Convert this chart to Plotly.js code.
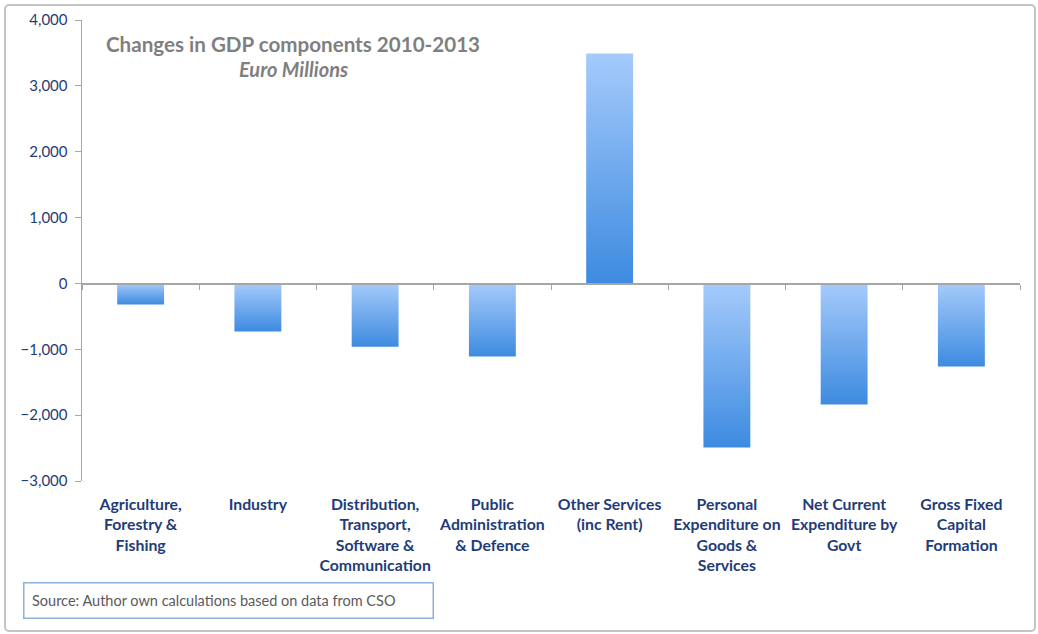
<!DOCTYPE html>
<html>
<head>
<meta charset="utf-8">
<script src="https://cdn.plot.ly/plotly-3.0.1.min.js"></script>
<style>
  html, body { margin: 0; padding: 0; background: #ffffff; }
  #wrap { position: relative; width: 1038px; height: 634px; }
  #chart { width: 1038px; height: 634px; }
  #frame { position: absolute; left: 4px; top: 4px; width: 1028px; height: 624px;
           border: 2px solid #c4c4c4; border-radius: 5px; pointer-events: none; }
</style>
</head>
<body>
<div id="wrap">
  <div id="chart"></div>
  <div id="frame"></div>
</div>
<script>
const categories = [
  "Agriculture,<br>Forestry &<br>Fishing",
  "Industry",
  "Distribution,<br>Transport,<br>Software &<br>Communication",
  "Public<br>Administration<br>& Defence",
  "Other Services<br>(inc Rent)",
  "Personal<br>Expenditure on<br>Goods &<br>Services",
  "Net Current<br>Expenditure by<br>Govt",
  "Gross Fixed<br>Capital<br>Formation"
];
const changes = [-320, -730, -960, -1110, 3490, -2490, -1840, -1260];
const yTickVals = [-3000, -2000, -1000, 0, 1000, 2000, 3000, 4000];
const chartTitle = "Changes in GDP components 2010-2013";
const chartSubtitle = "Euro Millions";
const sourceNote = "Source: Author own calculations based on data from CSO";

const navy = "#1f3c78";
const axisGrey = "#a6a6a6";
const yMin = -3000, yMax = 4000;

const barTrace = {
  type: "bar",
  x: categories,
  y: changes,
  marker: { color: "#6aa8ee", line: { width: 0 } },
  hoverinfo: "x+y"
};
// empty helper trace so the zero-level category axis (x2) is drawn
const axisHelper = { type: "scatter", x: [], y: [], xaxis: "x2", yaxis: "y", hoverinfo: "skip" };

const layout = {
  width: 1038, height: 634,
  margin: { l: 82, r: 18, t: 20, b: 153 },
  paper_bgcolor: "rgba(0,0,0,0)",
  plot_bgcolor: "rgba(0,0,0,0)",
  font: { family: "Lato, 'Open Sans', sans-serif", color: navy },
  showlegend: false,
  bargap: 0.6,
  xaxis: {
    type: "category",
    showline: false, showgrid: false, zeroline: false,
    ticks: "",
    ticklabelstandoff: 12,
    tickfont: { size: 15.8, color: navy, family: "Lato, sans-serif", weight: "bold" },
    tickangle: 0,
    automargin: false
  },
  xaxis2: {
    overlaying: "x",
    anchor: "free",
    position: (0 - yMin) / (yMax - yMin),
    range: [-0.5, categories.length - 0.5],
    showline: true, linecolor: axisGrey, linewidth: 1.5,
    showgrid: false, zeroline: false,
    ticks: "outside", ticklen: 5, tickcolor: axisGrey, tickwidth: 1,
    tickmode: "array",
    tickvals: categories.map((c, i) => i - 0.5).concat([categories.length - 0.5]),
    showticklabels: false,
    fixedrange: true
  },
  yaxis: {
    range: [yMin, yMax],
    tickvals: yTickVals,
    tickformat: ",",
    showline: true, linecolor: axisGrey, linewidth: 1.5,
    ticks: "outside", ticklen: 6, tickcolor: axisGrey,
    ticklabelstandoff: 4,
    showgrid: false, zeroline: true, zerolinecolor: axisGrey, zerolinewidth: 1.5,
    tickfont: { size: 15, color: navy, family: "Lato, sans-serif" },
    automargin: false
  },
  annotations: [
    { text: "<b>" + chartTitle + "</b>", xref: "paper", yref: "paper",
      x: 0.225, y: 0.948, xanchor: "center", yanchor: "middle", showarrow: false,
      font: { size: 20.6, color: "#7f7f7f", family: "Lato, sans-serif" } },
    { text: "<b><i>" + chartSubtitle + "</i></b>", xref: "paper", yref: "paper",
      x: 0.225, y: 0.8935, xanchor: "center", yanchor: "middle", showarrow: false,
      font: { size: 20, color: "#7f7f7f", family: "Lato, sans-serif" } },
    { text: sourceNote, xref: "paper", yref: "paper",
      x: -0.0629, y: -0.219, xanchor: "left", yanchor: "top", showarrow: false,
      align: "left", valign: "middle", width: 393, height: 19, borderpad: 7.5,
      bordercolor: "#8fb0d8", borderwidth: 1.5, bgcolor: "#ffffff",
      font: { size: 14.5, color: "#5a5a5a", family: "Lato, sans-serif" } }
  ]
};

Plotly.newPlot("chart", [barTrace, axisHelper], layout, { displayModeBar: false, staticPlot: true }).then(function (gd) {
  const svg = gd.querySelector(".main-svg");
  const ns = "http://www.w3.org/2000/svg";
  let defs = svg.querySelector("defs");
  if (!defs) { defs = document.createElementNS(ns, "defs"); svg.insertBefore(defs, svg.firstChild); }
  const grad = document.createElementNS(ns, "linearGradient");
  grad.setAttribute("id", "barGrad");
  grad.setAttribute("x1", "0"); grad.setAttribute("y1", "0");
  grad.setAttribute("x2", "0"); grad.setAttribute("y2", "1");
  [["0", "#a5cafb"], ["1", "#3d8be0"]].forEach(function (s) {
    const st = document.createElementNS(ns, "stop");
    st.setAttribute("offset", s[0]); st.setAttribute("stop-color", s[1]);
    grad.appendChild(st);
  });
  defs.appendChild(grad);
  gd.querySelectorAll(".trace.bars .point path").forEach(function (p) {
    p.style.fill = "url(#barGrad)";
  });
});
</script>
</body>
</html>
